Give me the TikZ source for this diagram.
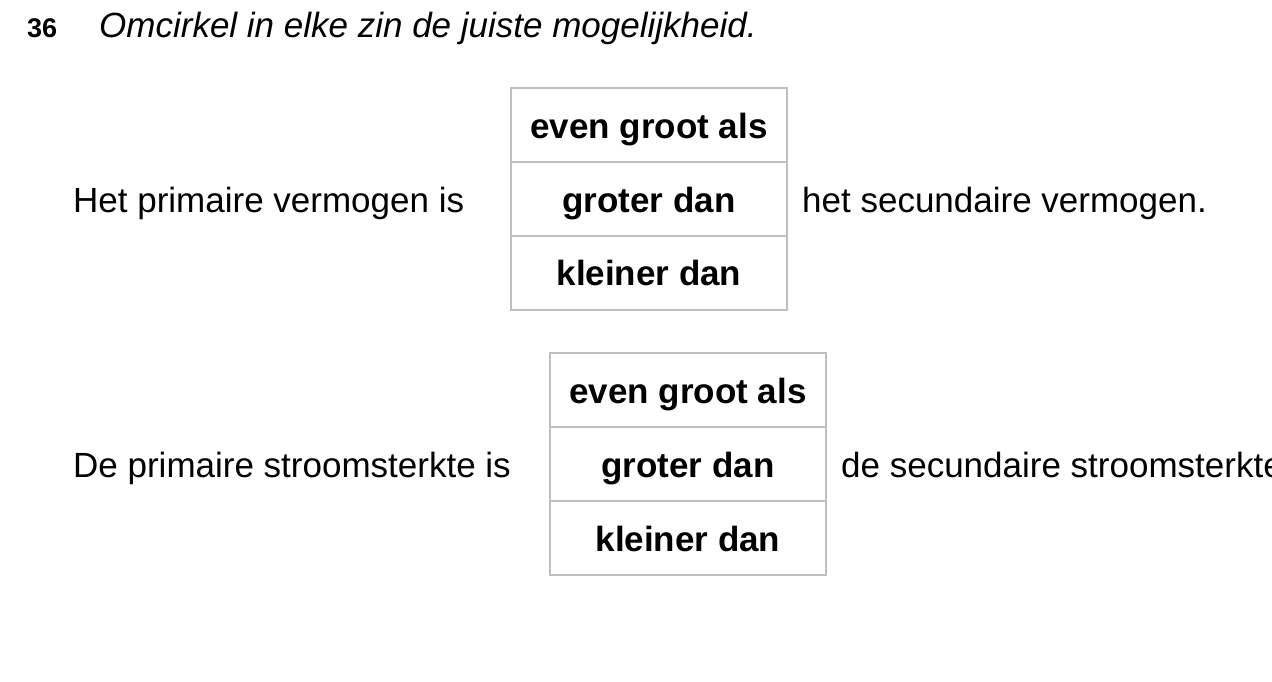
\documentclass[tikz,border=0pt]{standalone}
\usepackage{fontspec}
\setmainfont{Liberation Sans}
\definecolor{cellgray}{HTML}{BFBFBF}
\tikzset{
  txt/.style={anchor=base west, inner sep=0pt, font=\fontsize{35}{42}\selectfont},
  cell/.style={draw=cellgray, line width=2pt, minimum width=276pt, minimum height=74pt,
    inner sep=0pt, text height=26pt, text depth=0pt,
    font=\fontsize{35}{42}\selectfont\bfseries}
}
\begin{document}
\begin{tikzpicture}[x=1pt, y=-1pt]
    \useasboundingbox (0,0) rectangle (1272,681);
    \clip (0,0) rectangle (1272,681);

    % Question
    \node[txt, font=\fontsize{27}{32}\selectfont\bfseries] (num) at (27,37) {36};
    \node[txt, font=\fontsize{35}{42}\selectfont\itshape] (title) at (99,37) {Omcirkel in elke zin de juiste mogelijkheid.};

    % First sentence
    \node[txt] (zin1) at (73,212) {Het primaire vermogen is};
    \node[cell] (a1) at (649,125) {even groot als};
    \node[cell] (a2) at (649,199) {groter dan};
    \node[cell] (a3) at (649,272.5) {kleiner dan};
    \node[txt] (rest1) at (802,212) {het secundaire vermogen.};

    % Second sentence
    \node[txt] (zin2) at (73,477) {De primaire stroomsterkte is};
    \node[cell] (b1) at (688,390) {even groot als};
    \node[cell] (b2) at (688,464) {groter dan};
    \node[cell] (b3) at (688,538) {kleiner dan};
    \node[txt] (rest2) at (841,477) {de secundaire stroomsterkte.};
\end{tikzpicture}
\end{document}
